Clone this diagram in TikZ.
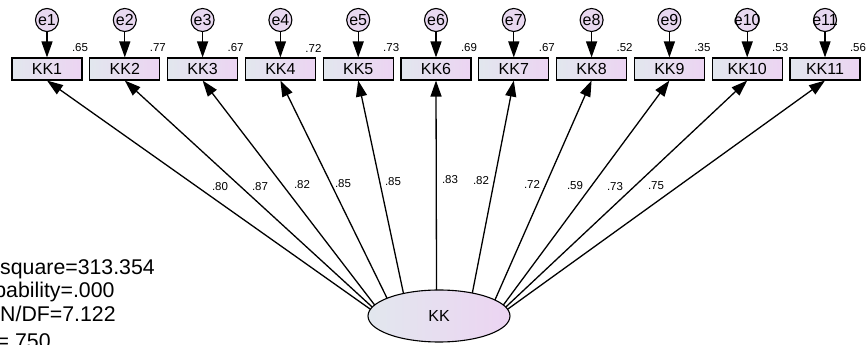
\documentclass[tikz,border=0pt]{standalone}
\usepackage{fontspec}
\setmainfont{Liberation Sans}
\usetikzlibrary{shapes.geometric,arrows.meta,calc}
\definecolor{lgray}{HTML}{E2E7EE}
\definecolor{lpurp}{HTML}{ECD4F2}
\definecolor{cpurp}{HTML}{E8D8F0}
\tikzset{
  obs/.style={draw, line width=1.1pt, left color=lgray, right color=lpurp,
    minimum width=70pt, minimum height=22pt, inner sep=0pt,
    font=\fontsize{16}{16}\selectfont},
  err/.style={draw, circle, line width=1.1pt, fill=cpurp, minimum size=23pt,
    inner sep=0pt, font=\fontsize{16}{16}\selectfont},
  lat/.style={draw, ellipse, line width=1.1pt, left color=lgray, right color=lpurp,
    minimum width=142pt, minimum height=52pt, inner sep=0pt,
    font=\fontsize{16}{16}\selectfont},
  arr/.style={line width=1.3pt, -{Triangle[length=16pt,width=11pt]}},
  val/.style={font=\fontsize{11.5}{11.5}\selectfont, inner sep=0pt},
  fit/.style={font=\fontsize{21.3}{21.3}\selectfont, anchor=base west, inner sep=0pt}
}
\begin{document}
\begin{tikzpicture}[x=1pt,y=1pt]
\useasboundingbox (0,0) rectangle (868,345);
\clip (0,0) rectangle (868,345);
\node[lat] (kk) at (439,29) {KK};
\foreach \i/\v/\a in {1/.65/165,2/.77/160,3/.67/155,4/.72/137,5/.73/120,6/.69/92,7/.67/62,8/.52/38,9/.35/25,10/.53/20,11/.56/15} {
  \pgfmathsetmacro\xx{47+77.8*(\i-1)}
  \node[obs] (kk\i) at (\xx,276) {KK\i};
  \node[err] (e\i) at (\xx,325) {\makebox[0pt]{e\i}};
  \node[val] (r\i) at (\xx+33,297) {\v};
  \coordinate (s\i) at ($(kk.center)+(\a:71 and 26)$);
  \draw[arr] (e\i) -- (kk\i);
  \draw[arr] (s\i) -- (kk\i.south);
}
\foreach \i/\v/\x/\y in {1/.80/220/158,2/.87/260/158,3/.82/302/160,4/.85/343/161,5/.85/393/163,6/.83/450/165,7/.82/481/164,8/.72/532/161,9/.59/575/159,10/.73/615/158,11/.75/656/159} {
  \node[val] (l\i) at (\x,\y) {\v};
}
\node[fit] (fit1) at (-39,70) {Chi-square=313.354};
\node[fit] (fit2) at (-39,47) {Probability=.000};
\node[fit] (fit3) at (-39,23) {CMIN/DF=7.122};
\node[fit] (fit4) at (-39,-4) {GFI=.750};
\end{tikzpicture}
\end{document}
